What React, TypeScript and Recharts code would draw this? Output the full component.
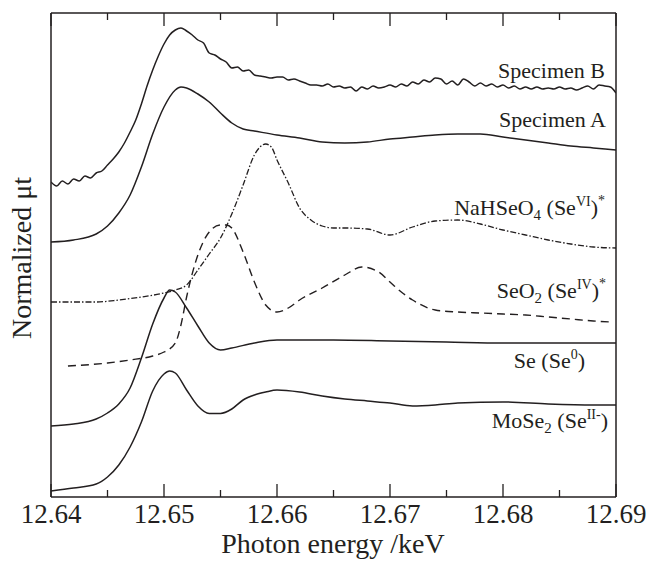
import React from 'react';
import { LineChart, Line, XAxis, YAxis } from 'recharts';

// photon energy (keV) grid for the noisy specimen B scan
const energyB = [
  12.64, 12.6405, 12.641, 12.6415, 12.642, 12.6425, 12.643, 12.6435, 12.644, 12.6445,
  12.645, 12.6455, 12.646, 12.6465, 12.647, 12.6475, 12.648, 12.6485, 12.649, 12.6495,
  12.65, 12.6505, 12.651, 12.6515, 12.652, 12.6525, 12.653, 12.6535, 12.654, 12.6545,
  12.655, 12.6555, 12.656, 12.6565, 12.657, 12.6575, 12.658, 12.6585, 12.659, 12.6595,
  12.66, 12.6605, 12.661, 12.6615, 12.662, 12.6625, 12.663, 12.6635, 12.664, 12.6645,
  12.665, 12.6655, 12.666, 12.6665, 12.667, 12.6675, 12.668, 12.6685, 12.669, 12.6695,
  12.67, 12.6705, 12.671, 12.6715, 12.672, 12.6725, 12.673, 12.6735, 12.674, 12.6745,
  12.675, 12.6755, 12.676, 12.6765, 12.677, 12.6775, 12.678, 12.6785, 12.679, 12.6795,
  12.68, 12.6805, 12.681, 12.6815, 12.682, 12.6825, 12.683, 12.6835, 12.684, 12.6845,
  12.685, 12.6855, 12.686, 12.6865, 12.687, 12.6875, 12.688, 12.6885, 12.689, 12.6895,
  12.69,
];
const specimenB = [
  3.15, 3.11, 3.16, 3.13, 3.18, 3.16, 3.21, 3.19, 3.24, 3.26,
  3.32, 3.38, 3.45, 3.54, 3.65, 3.77, 3.93, 4.11, 4.27, 4.41,
  4.53, 4.62, 4.67, 4.69, 4.66, 4.62, 4.57, 4.54, 4.44, 4.42,
  4.38, 4.35, 4.29, 4.3, 4.26, 4.27, 4.22, 4.21, 4.2, 4.19,
  4.2, 4.2, 4.17, 4.18, 4.16, 4.14, 4.12, 4.12, 4.11, 4.13,
  4.1, 4.11, 4.09, 4.1, 4.06, 4.1, 4.08, 4.11, 4.09, 4.1,
  4.12, 4.1, 4.13, 4.11, 4.15, 4.13, 4.17, 4.15, 4.19, 4.18,
  4.13, 4.16, 4.12, 4.18, 4.15, 4.11, 4.14, 4.11, 4.13, 4.1,
  4.12, 4.09, 4.11, 4.08, 4.1, 4.08, 4.1, 4.08, 4.09, 4.08,
  4.1, 4.08, 4.09, 4.07, 4.09, 4.11, 4.08, 4.12, 4.11, 4.1,
  4.04,
];

const energyA = [
  12.64, 12.642, 12.644, 12.645, 12.646, 12.647, 12.648, 12.649, 12.65, 12.651,
  12.6515, 12.652, 12.653, 12.654, 12.655, 12.656, 12.657, 12.658, 12.66, 12.662,
  12.664, 12.666, 12.668, 12.67, 12.672, 12.674, 12.676, 12.678, 12.68, 12.682,
  12.684, 12.686, 12.688, 12.69,
];
const specimenA = [
  2.55, 2.57, 2.63, 2.71, 2.84, 3.02, 3.3, 3.63, 3.9, 4.07,
  4.1, 4.09, 4.03, 3.95, 3.84, 3.74, 3.68, 3.66, 3.62, 3.59,
  3.55, 3.54, 3.55, 3.58, 3.6, 3.62, 3.63, 3.63, 3.6, 3.57,
  3.54, 3.51, 3.49, 3.47,
];

const energySeVI = [
  12.64, 12.642, 12.644, 12.646, 12.648, 12.65, 12.651, 12.652, 12.653, 12.654,
  12.655, 12.656, 12.657, 12.658, 12.6585, 12.659, 12.6595, 12.66, 12.661, 12.662,
  12.663, 12.664, 12.665, 12.666, 12.668, 12.67, 12.672, 12.674, 12.676, 12.678,
  12.68, 12.682, 12.684, 12.686, 12.688, 12.69,
];
const naHSeO4 = [
  1.95, 1.95, 1.95, 1.97, 2.0, 2.04, 2.07, 2.12, 2.27, 2.43,
  2.59, 2.83, 3.12, 3.42, 3.5, 3.53, 3.5, 3.37, 3.14, 2.89,
  2.77, 2.71, 2.69, 2.69, 2.68, 2.62, 2.7, 2.76, 2.77, 2.73,
  2.67, 2.62, 2.57, 2.53, 2.5, 2.49,
];

const energySeIV = [
  12.6415, 12.643, 12.645, 12.647, 12.649, 12.65, 12.651, 12.6515, 12.652, 12.653,
  12.654, 12.655, 12.6555, 12.656, 12.657, 12.658, 12.659, 12.66, 12.661, 12.662,
  12.664, 12.666, 12.6675, 12.669, 12.67, 12.671, 12.672, 12.674, 12.676, 12.678,
  12.68, 12.682, 12.684, 12.686, 12.688, 12.6895,
];
const seO2 = [
  1.31, 1.32, 1.34, 1.37, 1.41, 1.45, 1.54, 1.72, 2.0, 2.42,
  2.65, 2.72, 2.72, 2.69, 2.45, 2.15, 1.92, 1.85, 1.89, 1.97,
  2.09, 2.22, 2.3, 2.25, 2.15, 2.05, 1.97, 1.87, 1.85, 1.84,
  1.83, 1.82, 1.8, 1.78, 1.76, 1.75,
];

const energySe0 = [
  12.64, 12.642, 12.644, 12.645, 12.646, 12.647, 12.648, 12.649, 12.65, 12.6505,
  12.651, 12.652, 12.653, 12.654, 12.655, 12.656, 12.658, 12.66, 12.665, 12.67,
  12.675, 12.68, 12.685, 12.69,
];
const seMetal = [
  0.71, 0.73, 0.78, 0.84, 0.93, 1.09, 1.39, 1.73, 1.99, 2.07,
  2.05, 1.89, 1.71, 1.54, 1.47, 1.49, 1.54, 1.57, 1.57, 1.56,
  1.55, 1.54, 1.54, 1.54,
];

const energySeII = [
  12.64, 12.642, 12.644, 12.645, 12.646, 12.647, 12.648, 12.649, 12.65, 12.6505,
  12.651, 12.652, 12.653, 12.654, 12.655, 12.656, 12.657, 12.658, 12.659, 12.66,
  12.662, 12.664, 12.666, 12.668, 12.67, 12.672, 12.674, 12.676, 12.68, 12.684,
  12.688, 12.69,
];
const moSe2 = [
  0.06, 0.09, 0.13, 0.2, 0.32, 0.5, 0.75, 1.06, 1.23, 1.26,
  1.24, 1.07, 0.91, 0.835, 0.835, 0.88, 0.97, 1.02, 1.05, 1.07,
  1.05, 1.01, 0.98, 0.96, 0.94, 0.91, 0.92, 0.94, 0.95, 0.93,
  0.92, 0.92,
];

const energyTicks = [12.64, 12.645, 12.65, 12.655, 12.66, 12.665, 12.67, 12.675, 12.68, 12.685, 12.69];

const toPoints = (xs: number[], ys: number[]) => xs.map((e, i) => ({ e, v: ys[i] }));

const ink = '#231f20';
const serif = "'Liberation Serif', 'Times New Roman', Times, serif";
const serifStyle = { fontFamily: serif };

const isMajor = (v: number) => Math.round(v * 1000) % 10 === 0;

const BottomTick = (props: any) => {
  const { x, y, payload } = props;
  const major = isMajor(payload.value);
  return (
    <g>
      <line x1={x} y1={y} x2={x} y2={y - (major ? 13 : 7)} stroke={ink} strokeWidth={1.3} />
      {major && (
        <text x={x} y={y + 26} textAnchor="middle" fontSize={27} style={serifStyle} fill={ink}>
          {payload.value.toFixed(2)}
        </text>
      )}
    </g>
  );
};

const TopTick = (props: any) => {
  const { x, y, payload } = props;
  const major = isMajor(payload.value);
  return <line x1={x} y1={y} x2={x} y2={y + (major ? 13 : 7)} stroke={ink} strokeWidth={1.3} />;
};

const lineProps = {
  type: 'monotone' as const,
  dataKey: 'v',
  stroke: ink,
  strokeWidth: 1.5,
  dot: false,
  activeDot: false,
  isAnimationActive: false,
};

const sub = { fontSize: 15 };
const sup = { fontSize: 14 };

export default function App() {
  return (
    <div style={{ position: 'absolute', left: 0, top: 0, width: 648, height: 561, background: '#fff' }}>
      <LineChart width={648} height={561} margin={{ top: 12, right: 31, bottom: 34, left: 50 }}>
        <XAxis
          dataKey="e"
          type="number"
          domain={[12.64, 12.69]}
          ticks={energyTicks}
          allowDataOverflow
          height={30}
          tickSize={0}
          tickMargin={0}
          tickLine={false}
          tick={<BottomTick />}
          interval={0}
          axisLine={{ stroke: ink, strokeWidth: 1.5 }}
        />
        <XAxis
          xAxisId="top"
          orientation="top"
          dataKey="e"
          type="number"
          domain={[12.64, 12.69]}
          ticks={energyTicks}
          allowDataOverflow
          height={1}
          tickSize={0}
          tickMargin={0}
          tickLine={false}
          tick={<TopTick />}
          interval={0}
          axisLine={{ stroke: ink, strokeWidth: 1.5 }}
        />
        <YAxis
          type="number"
          domain={[0, 4.84]}
          allowDataOverflow
          width={1}
          tick={false}
          tickLine={false}
          axisLine={{ stroke: ink, strokeWidth: 1.5 }}
        />
        <YAxis
          yAxisId="right"
          orientation="right"
          type="number"
          domain={[0, 4.84]}
          width={1}
          tick={false}
          tickLine={false}
          axisLine={{ stroke: ink, strokeWidth: 1.5 }}
        />
        <Line {...lineProps} data={toPoints(energyB, specimenB)} name="Specimen B" />
        <Line {...lineProps} data={toPoints(energyA, specimenA)} name="Specimen A" />
        <Line {...lineProps} data={toPoints(energySeVI, naHSeO4)} name="NaHSeO4" strokeDasharray="6 2 1.5 2" strokeWidth={1.3} />
        <Line {...lineProps} data={toPoints(energySeIV, seO2)} name="SeO2" strokeDasharray="8 5" strokeWidth={1.4} />
        <Line {...lineProps} data={toPoints(energySe0, seMetal)} name="Se" />
        <Line {...lineProps} data={toPoints(energySeII, moSe2)} name="MoSe2" />

        <g style={serifStyle} fill={ink} fontSize={22} textAnchor="end">
          <text x={605} y={78}>Specimen B</text>
          <text x={606} y={127}>Specimen A</text>
          <text x={605} y={215}>
            NaHSeO<tspan {...sub} dy={5}>4</tspan>
            <tspan dy={-5}> (Se</tspan>
            <tspan {...sup} dy={-9}>VI</tspan>
            <tspan dy={9}>)</tspan>
            <tspan {...sup} dy={-10}>*</tspan>
          </text>
          <text x={606} y={298}>
            SeO<tspan {...sub} dy={5}>2</tspan>
            <tspan dy={-5}> (Se</tspan>
            <tspan {...sup} dy={-9}>IV</tspan>
            <tspan dy={9}>)</tspan>
            <tspan {...sup} dy={-10}>*</tspan>
          </text>
          <text x={585} y={368}>
            Se (Se<tspan {...sup} dy={-9}>0</tspan>
            <tspan dy={9}>)</tspan>
          </text>
          <text x={608} y={428}>
            MoSe<tspan {...sub} dy={5}>2</tspan>
            <tspan dy={-5}> (Se</tspan>
            <tspan {...sup} dy={-9}>II-</tspan>
            <tspan dy={9}>)</tspan>
          </text>
        </g>
        <text x={333} y={553} textAnchor="middle" style={serifStyle} fontSize={28} fill={ink}>
          Photon energy /keV
        </text>
        <text
          x={31}
          y={258}
          textAnchor="middle"
          style={serifStyle}
          fontSize={28}
          fill={ink}
          transform="rotate(-90 31 258)"
        >
          Normalized μt
        </text>
      </LineChart>
    </div>
  );
}
